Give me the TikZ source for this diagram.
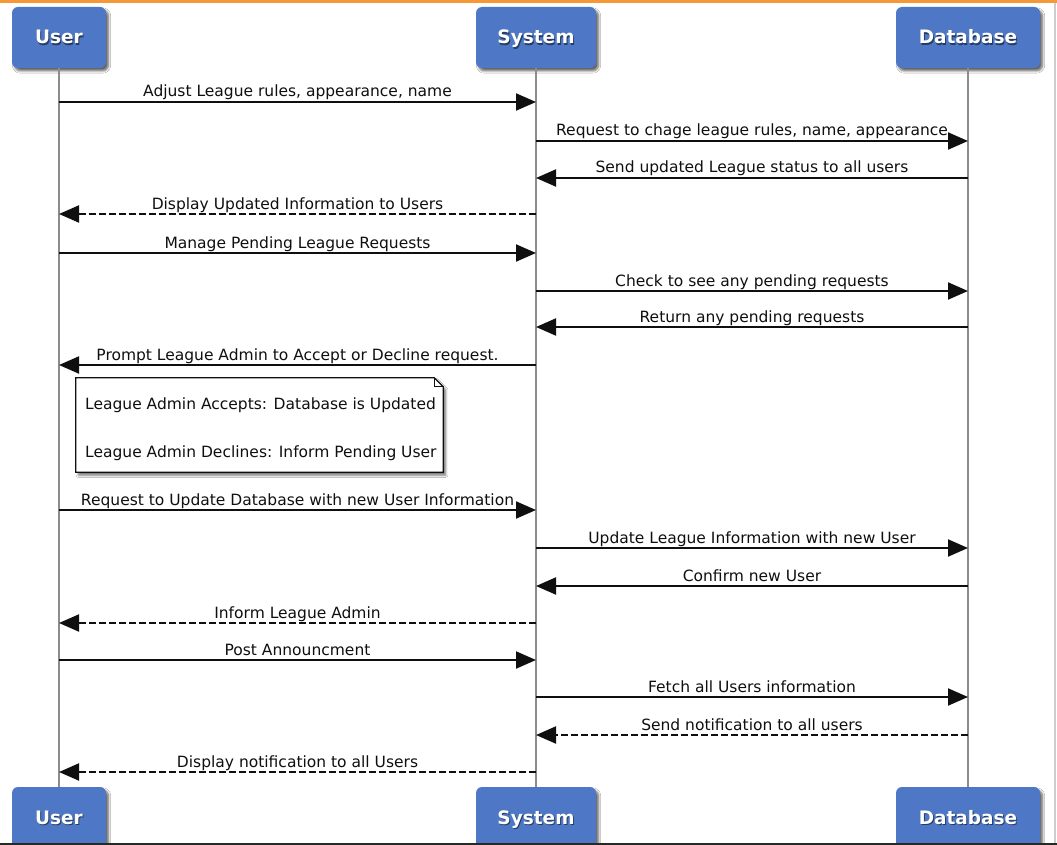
\documentclass[tikz,border=0pt]{standalone}
\usepackage{fontspec}
\setmainfont{DejaVu Sans}
\usetikzlibrary{arrows.meta,shadows.blur}

\definecolor{actorfill}{RGB}{78,120,198}
\definecolor{lifegray}{RGB}{140,140,140}
\definecolor{topbar}{RGB}{244,152,56}
\definecolor{botbar}{RGB}{38,42,38}
\definecolor{edgegray}{RGB}{205,205,205}
\definecolor{inkblack}{RGB}{15,15,15}

\tikzset{
  actorbox/.style={rectangle, rounded corners=6pt, fill=actorfill, minimum height=61pt,
    inner sep=0pt,
    blur shadow={shadow xshift=2.5pt, shadow yshift=-3pt, shadow blur steps=6, shadow opacity=60}},
  actorlabel/.style={text=white, font=\bfseries\fontsize{18.5}{20}\selectfont, anchor=base, inner sep=0pt},
  actorshade/.style={actorlabel, text=black, opacity=0.5},
  lifeline/.style={draw=lifegray, line width=2pt},
  call/.style={draw=inkblack, line width=2pt, -{Triangle[length=20pt,width=17pt]}},
  reply/.style={call, dash pattern=on 7pt off 3pt},
  msgtext/.style={anchor=base, inner sep=0pt, font=\fontsize{15.5}{18}\selectfont, text=inkblack, yshift=5pt},
  notebody/.style={rectangle, inner sep=0pt, minimum width=367pt, minimum height=94pt},
  noteline/.style={draw=inkblack, line width=1.2pt, fill=white,
    blur shadow={shadow xshift=2.5pt, shadow yshift=-3pt, shadow blur steps=6, shadow opacity=55}},
  notetext/.style={anchor=base west, inner sep=0pt, font=\fontsize{15.5}{18}\selectfont, text=inkblack}
}

% participant box with a white, softly shadowed caption
\newcommand\actorbox[5]{%
  \node[actorbox, minimum width=#4] (#1) at (#2,#3) {};
  \node[actorshade] (#1-shade) at ([shift={(1,8)}]#1.center) {#5};
  \node[actorlabel] (#1-text) at ([shift={(0,6.5)}]#1.center) {#5};}

% message arrow between two lifelines at height #4, caption centred above
\newcommand\seqmsg[6]{%
  \draw[#1] (#2 |- 0,#4) -- node[msgtext] (#5) {#6} (#3 |- 0,#4);}

\begin{document}
\begin{tikzpicture}[x=1pt,y=-1pt]
\useasboundingbox (0,0) rectangle (1057,845);
\clip (0,0) rectangle (1057,845);
\fill[white] (0,0) rectangle (1057,845);

% participants, top and bottom
\actorbox{userTop}{59}{37.5}{94pt}{User}
\actorbox{sysTop}{536}{37.5}{120pt}{System}
\actorbox{dbTop}{968}{37.5}{144pt}{Database}
\actorbox{userBot}{59}{817.5}{94pt}{User}
\actorbox{sysBot}{536}{817.5}{120pt}{System}
\actorbox{dbBot}{968}{817.5}{144pt}{Database}

% lifelines
\draw[lifeline] (userTop.south) -- (userBot.north);
\draw[lifeline] (sysTop.south) -- (sysBot.north);
\draw[lifeline] (dbTop.south) -- (dbBot.north);

% league settings
\seqmsg{call}{userTop}{sysTop}{102}{m1}{Adjust League rules, appearance, name}
\seqmsg{call}{sysTop}{dbTop}{141}{m2}{Request to chage league rules, name, appearance}
\seqmsg{call}{dbTop}{sysTop}{178}{m3}{Send updated League status to all users}
\seqmsg{reply}{sysTop}{userTop}{214}{m4}{Display Updated Information to Users}

% pending requests
\seqmsg{call}{userTop}{sysTop}{253}{m5}{Manage Pending League Requests}
\seqmsg{call}{sysTop}{dbTop}{291}{m6}{Check to see any pending requests}
\seqmsg{call}{dbTop}{sysTop}{327}{m7}{Return any pending requests}
\seqmsg{call}{sysTop}{userTop}{365}{m8}{Prompt League Admin to Accept or Decline request.}

% decision note
\node[notebody] (note) at (259.5,425) {};
\draw[noteline] (note.north west) -- ([xshift=-9pt]note.north east)
  -- ([yshift=-9pt]note.north east) -- (note.south east) -- (note.south west) -- cycle;
\draw[draw=inkblack, line width=0.8pt] ([xshift=-9pt]note.north east) |- ([yshift=-9pt]note.north east);
\node[notetext] (noteA) at (85,409) {League Admin Accepts: Database is Updated};
\node[notetext] (noteB) at (85,457) {League Admin Declines: Inform Pending User};

% accepting a new user
\seqmsg{call}{userTop}{sysTop}{510}{m9}{Request to Update Database with new User Information}
\seqmsg{call}{sysTop}{dbTop}{548}{m10}{Update League Information with new User}
\seqmsg{call}{dbTop}{sysTop}{586}{m11}{Confirm new User}
\seqmsg{reply}{sysTop}{userTop}{623}{m12}{Inform League Admin}

% announcements
\seqmsg{call}{userTop}{sysTop}{660}{m13}{Post Announcment}
\seqmsg{call}{sysTop}{dbTop}{697}{m14}{Fetch all Users information}
\seqmsg{reply}{dbTop}{sysTop}{735}{m15}{Send notification to all users}
\seqmsg{reply}{sysTop}{userTop}{772}{m16}{Display notification to all Users}

% window frame
\fill[topbar] (0,0) rectangle (1057,3);
\fill[botbar] (0,842.5) rectangle (1057,845);
\fill[edgegray] (1054,3) rectangle (1056,842.5);
\end{tikzpicture}
\end{document}
